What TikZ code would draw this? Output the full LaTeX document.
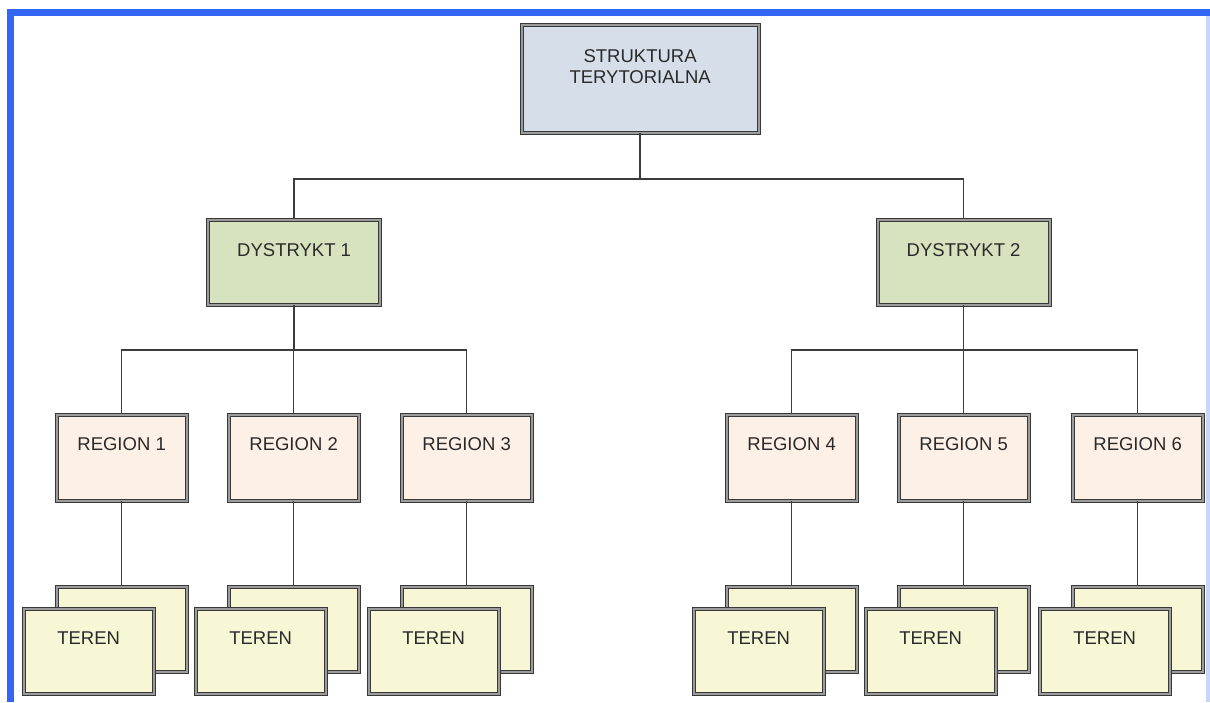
\documentclass[tikz,border=0pt]{standalone}
\usepackage{fontspec}
\setmainfont{Liberation Sans}
\definecolor{frameblue}{HTML}{3366F5}
\definecolor{framelight}{HTML}{C8D6FA}
\definecolor{boxline}{HTML}{383838}
\definecolor{boxmid}{HTML}{9C9C9C}
\definecolor{connc}{HTML}{3C3C3C}
\definecolor{txtc}{HTML}{2A2A2A}
\definecolor{topfill}{HTML}{D6DFE9}
\definecolor{dfill}{HTML}{D7E3BE}
\definecolor{rfill}{HTML}{FDF1E7}
\definecolor{tfill}{HTML}{F7F7D6}
\begin{document}
\begin{tikzpicture}[x=1pt,y=-1pt,
  box/.style={draw=boxline, double=boxmid, double distance=1.8pt, line width=1.2pt,
    inner sep=0pt, anchor=north west, text=txtc, font=\fontsize{18.5}{21}\selectfont},
  topbox/.style={box, fill=topfill, minimum width=237pt, text height=38pt, text depth=70pt},
  dbox/.style={box, fill=dfill, minimum width=172pt, text height=37pt, text depth=48pt},
  rbox/.style={box, fill=rfill, minimum width=130pt, text height=36pt, text depth=50pt},
  tbox/.style={box, fill=tfill, minimum width=130pt, text height=36pt, text depth=49pt},
  conn/.style={draw=connc, line width=1.5pt}]
\useasboundingbox (0,0) rectangle (1210,702);
\fill[white] (0,0) rectangle (1210,702);
% frame
\fill[frameblue] (7,9) rectangle (1210,16);
\fill[frameblue] (7,9) rectangle (14,702);
\fill[framelight] (1206,16) rectangle (1210,702);

% top
\node[topbox] (top) at (521,24) {\parbox[t]{230pt}{\centering STRUKTURA\\TERYTORIALNA}};
% districts
\node[dbox] (d1) at (207.5,219) {DYSTRYKT 1};
\node[dbox] (d2) at (877,219) {DYSTRYKT 2};
% regions
\node[rbox] (r1) at (56,414) {REGION 1};
\node[rbox] (r2) at (228,414) {REGION 2};
\node[rbox] (r3) at (401,414) {REGION 3};
\node[rbox] (r4) at (726,414) {REGION 4};
\node[rbox] (r5) at (898,414) {REGION 5};
\node[rbox] (r6) at (1072,414) {REGION 6};
% teren back boxes
\node[tbox] (t1b) at (56,586) {};
\node[tbox] (t2b) at (228,586) {};
\node[tbox] (t3b) at (401,586) {};
\node[tbox] (t4b) at (726,586) {};
\node[tbox] (t5b) at (898,586) {};
\node[tbox] (t6b) at (1072,586) {};
% teren front boxes
\node[tbox] (t1) at (23,608) {TEREN};
\node[tbox] (t2) at (195,608) {TEREN};
\node[tbox] (t3) at (368,608) {TEREN};
\node[tbox] (t4) at (693,608) {TEREN};
\node[tbox] (t5) at (865,608) {TEREN};
\node[tbox] (t6) at (1039,608) {TEREN};

% connectors
\draw[conn] (top.south) -- ++(0,46) coordinate (j0);
\draw[conn] (d1.north) |- (j0) -| (d2.north);
\draw[conn] (d1.south) -- ++(0,45) coordinate (j1);
\draw[conn] (r1.north) |- (j1) -| (r3.north);
\draw[conn] (r2.north) |- (j1);
\draw[conn] (d2.south) -- ++(0,45) coordinate (j2);
\draw[conn] (r4.north) |- (j2) -| (r6.north);
\draw[conn] (r5.north) |- (j2);
\draw[conn] (r1.south) -- (t1b.north);
\draw[conn] (r2.south) -- (t2b.north);
\draw[conn] (r3.south) -- (t3b.north);
\draw[conn] (r4.south) -- (t4b.north);
\draw[conn] (r5.south) -- (t5b.north);
\draw[conn] (r6.south) -- (t6b.north);
\end{tikzpicture}
\end{document}
